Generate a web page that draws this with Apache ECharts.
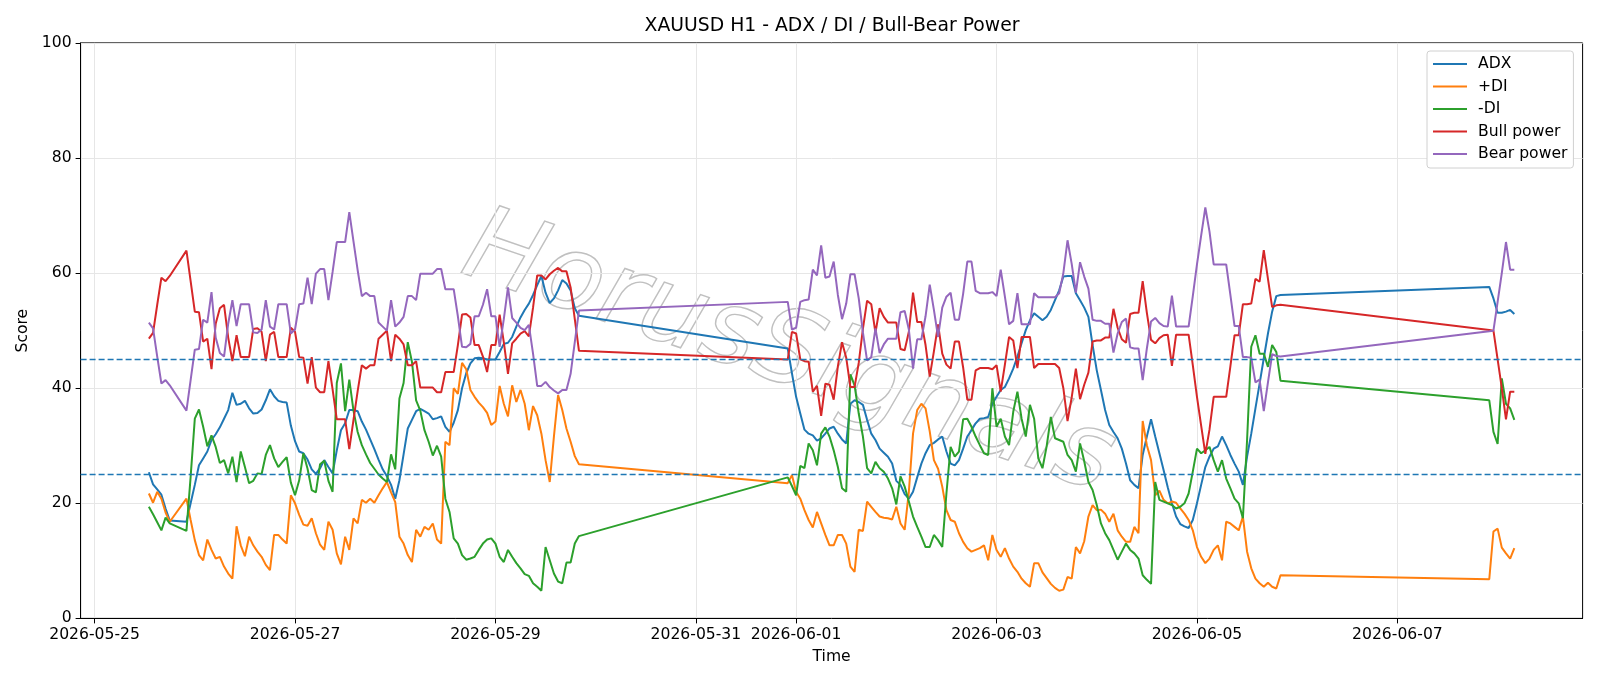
<!DOCTYPE html>
<html>
<head>
<meta charset="utf-8">
<title>XAUUSD H1 - ADX / DI / Bull-Bear Power</title>
<script src="https://cdn.jsdelivr.net/npm/echarts@6/dist/echarts.min.js"></script>
<style>
html, body { margin: 0; padding: 0; background: #fff; }
#chart { width: 1600px; height: 686px; }
</style>
</head>
<body>
<div id="chart"></div>
<script>
// H1 bars, hour offsets from 2026-05-25 00:00 UTC (trading sessions, weekends skipped)
const sessions = [[13, 18], [22, 116], [166, 284], [334, 340]];

const adx = [
    25.4, 23.3, 22.4, 21.5, 19.1, 17.0,
    16.8, 20.0, 23.2, 26.6, 27.8, 29.0, 31.0, 32.0, 33.2, 34.7,
    36.2, 39.2, 37.1, 37.3, 37.8, 36.5, 35.6, 35.7, 36.3, 37.9,
    39.8, 38.6, 37.8, 37.6, 37.5, 33.5, 30.8, 29.0, 28.7, 27.6,
    25.9, 25.1, 26.1, 27.5, 26.3, 25.2, 29.2, 32.7, 33.9, 36.2,
    36.2, 36.0, 34.2, 32.8, 31.1, 29.4, 27.6, 25.9, 24.7, 23.2,
    20.8, 24.0, 28.5, 33.0, 34.5, 36.0, 36.4, 36.0, 35.6, 34.6,
    34.8, 35.1, 33.3, 32.4, 34.0, 36.2, 40.0, 42.6, 44.3, 45.2,
    45.3, 45.2, 45.0, 45.0, 45.0, 46.3, 47.7, 47.9, 48.9, 50.7,
    52.3, 53.6, 54.7, 56.2, 57.9, 59.5, 56.6, 54.8, 55.6, 57.0,
    58.8, 58.2, 57.0, 53.9, 52.6,
    46.9, 42.6, 38.5, 35.6, 32.8, 32.1, 31.8, 30.9, 31.3, 32.1,
    33.0, 33.3, 32.1, 31.1, 30.4, 37.3, 37.9, 37.6, 37.1, 34.5,
    32.1, 31.0, 29.5, 28.8, 28.1, 26.9, 23.9, 23.2, 21.6, 20.8,
    22.0, 24.5, 26.9, 28.7, 30.1, 30.5, 31.1, 31.6, 29.0, 26.9,
    26.6, 27.5, 29.5, 31.6, 32.7, 33.9, 34.7, 34.8, 35.0, 37.3,
    38.5, 39.7, 40.2, 41.7, 43.4, 45.5, 47.8, 50.1, 51.8, 53.0,
    52.4, 51.8, 52.4, 53.6, 55.3, 57.0, 59.4, 59.5, 59.5, 56.5,
    55.3, 54.0, 52.4, 47.5, 43.1, 39.7, 36.2, 33.6, 32.4, 31.3,
    29.5, 26.9, 24.0, 23.2, 22.6, 28.4, 31.6, 34.6, 31.6, 28.7,
    25.8, 22.8, 20.0, 17.7, 16.4, 16.0, 15.7, 17.1, 20.0, 23.2,
    26.3, 28.1, 29.5, 29.9, 31.6, 30.1, 28.4, 26.9, 25.5, 23.2,
    28.1, 32.1, 36.5, 40.8, 45.2, 49.5, 53.3, 56.0, 56.2,
    57.6, 55.6, 53.1, 53.1, 53.3, 53.6, 52.9
];

const plusDI = [
    21.7, 20.1, 22.0, 20.8, 18.4, 16.8,
    20.8, 17.1, 13.6, 11.0, 10.1, 13.7, 11.9, 10.4, 10.7, 9.0,
    7.8, 6.9, 16.0, 12.7, 10.8, 14.2, 12.7, 11.6, 10.7, 9.3,
    8.4, 14.5, 14.5, 13.7, 13.0, 21.4, 20.0, 18.0, 16.3, 16.1,
    17.4, 14.8, 12.8, 11.9, 16.8, 15.4, 11.3, 9.4, 14.2, 11.9,
    17.4, 16.5, 20.6, 20.1, 20.8, 20.1, 21.4, 22.6, 23.7, 21.9,
    20.2, 14.2, 13.0, 11.0, 9.8, 15.4, 14.2, 15.9, 15.4, 16.5,
    13.7, 13.0, 30.7, 30.1, 40.0, 39.0, 44.4, 43.3, 39.7, 38.5,
    37.5, 36.7, 35.7, 33.6, 34.2, 40.4, 37.3, 35.1, 40.5, 37.6,
    39.7, 37.3, 32.7, 36.9, 35.3, 32.1, 27.5, 23.7, 31.6, 38.8,
    36.2, 33.0, 30.7, 28.2, 26.8,
    23.5, 24.9, 22.0, 20.8, 18.8, 17.1, 15.8, 18.5, 16.5, 14.5,
    12.7, 12.7, 14.5, 14.5, 13.0, 9.0, 8.1, 15.4, 15.2, 20.3,
    19.4, 18.5, 17.7, 17.5, 17.4, 17.2, 19.4, 16.5, 15.4, 22.0,
    32.1, 36.2, 37.3, 36.5, 32.5, 27.5, 26.0, 22.9, 18.8, 17.1,
    16.8, 14.8, 13.3, 12.2, 11.6, 11.9, 12.2, 12.7, 10.1, 14.5,
    11.9, 10.7, 12.2, 10.4, 9.0, 8.1, 6.9, 6.1, 5.5, 9.6,
    9.6, 8.0, 7.0, 6.0, 5.3, 4.8, 5.0, 7.2, 6.9, 12.4,
    11.3, 13.4, 17.7, 19.7, 18.8, 18.9, 18.2, 16.8, 18.2, 15.3,
    14.2, 13.3, 13.3, 15.9, 14.8, 34.3, 30.1, 27.5, 21.4, 22.2,
    20.6, 20.0, 20.3, 20.1, 19.1, 18.2, 17.1, 15.3, 12.4, 10.7,
    9.6, 10.4, 11.9, 12.7, 10.1, 16.8, 16.5, 15.9, 15.3, 17.7,
    11.6, 8.7, 6.9, 6.1, 5.5, 6.2, 5.5, 5.2, 7.5,
    6.8, 15.1, 15.6, 12.3, 11.3, 10.4, 12.2
];

const minusDI = [
    19.4, 18.1, 16.7, 15.3, 17.5, 16.5,
    15.2, 24.6, 34.7, 36.3, 33.3, 29.9, 31.8, 29.8, 27.0, 27.5,
    25.2, 28.1, 23.7, 29.0, 26.3, 23.5, 23.9, 25.2, 25.1, 28.4,
    30.1, 27.8, 26.3, 27.2, 28.0, 23.6, 21.4, 24.0, 28.7, 26.0,
    22.3, 21.9, 26.8, 27.4, 23.9, 22.0, 40.9, 44.3, 36.0, 41.5,
    36.1, 32.4, 30.1, 28.5, 27.0, 26.0, 25.0, 24.3, 23.7, 28.5,
    25.9, 38.2, 40.9, 48.0, 44.6, 37.9, 36.1, 32.7, 30.7, 28.3,
    30.0, 28.1, 20.8, 18.5, 13.9, 13.0, 11.0, 10.2, 10.4, 10.7,
    11.9, 13.0, 13.7, 13.9, 13.0, 10.7, 9.8, 11.9, 10.7, 9.6,
    8.7, 7.7, 7.4, 6.1, 5.5, 4.8, 12.4, 10.1, 7.8, 6.4,
    6.1, 9.7, 9.7, 13.0, 14.3,
    24.5, 23.0, 21.4, 26.5, 26.1, 30.4, 29.2, 26.6, 32.1, 33.2,
    31.6, 29.2, 26.3, 22.6, 22.0, 42.4, 40.5, 35.6, 31.6, 26.1,
    25.2, 27.2, 26.1, 25.5, 24.3, 22.6, 19.8, 24.7, 22.9, 20.3,
    17.7, 15.9, 14.2, 12.4, 12.4, 14.5, 13.6, 12.4, 21.7, 29.8,
    28.1, 29.0, 34.6, 34.7, 33.3, 31.6, 30.1, 28.7, 28.4, 40.0,
    33.3, 34.7, 31.6, 30.1, 35.9, 39.4, 34.7, 31.6, 37.1, 34.7,
    27.8, 26.1, 29.9, 35.0, 31.3, 31.0, 30.7, 28.4, 27.5, 25.5,
    30.4, 27.3, 23.7, 22.3, 19.7, 16.5, 14.8, 13.6, 11.9, 10.2,
    11.6, 13.0, 11.9, 11.3, 10.4, 7.5, 6.7, 6.0, 23.7, 20.6,
    20.3, 20.0, 19.7, 19.1, 19.4, 20.0, 21.7, 25.5, 29.5, 28.7,
    29.2, 29.8, 27.5, 25.5, 27.5, 24.3, 22.6, 20.8, 20.0, 17.4,
    31.0, 47.2, 49.2, 46.0, 46.0, 43.7, 47.5, 46.3, 41.3,
    37.9, 32.4, 30.3, 41.7, 37.3, 36.5, 34.5
];

const bullPower = [
    48.6, 49.6, 54.5, 59.2, 58.6, 59.5,
    63.9, 58.6, 53.3, 53.2, 48.1, 48.6, 43.3, 51.2, 53.9, 54.5,
    48.8, 44.7, 49.2, 45.4, 45.4, 45.4, 50.3, 50.4, 49.8, 44.7,
    49.3, 49.8, 45.4, 45.4, 45.4, 50.5, 49.8, 45.4, 45.3, 40.8,
    45.4, 40.1, 39.3, 39.3, 44.7, 39.8, 34.6, 34.6, 34.6, 29.4,
    34.5, 39.5, 44.0, 43.4, 44.0, 44.0, 48.6, 49.3, 50.0, 44.7,
    49.3, 48.6, 47.6, 44.0, 44.0, 44.7, 40.1, 40.1, 40.1, 40.1,
    39.3, 39.3, 42.8, 42.8, 42.8, 47.5, 52.8, 52.9, 52.3, 47.5,
    47.5, 45.5, 42.8, 47.5, 47.5, 52.8, 48.0, 42.5, 47.8, 48.6,
    49.5, 49.9, 49.0, 54.0, 59.6, 59.6, 58.9, 59.8, 60.4, 60.9,
    60.3, 60.3, 57.5, 52.0, 46.5,
    45.0, 49.8, 49.5, 45.0, 44.7, 44.6, 39.4, 40.4, 35.2, 40.8,
    40.6, 38.0, 43.8, 48.0, 45.3, 40.2, 40.2, 44.4, 50.3, 55.2,
    54.6, 49.6, 53.9, 52.4, 51.4, 51.4, 51.4, 46.8, 46.6, 49.8,
    56.6, 51.5, 51.5, 47.5, 42.0, 46.4, 51.1, 46.0, 44.1, 43.4,
    48.1, 48.1, 43.6, 38.0, 38.0, 43.1, 43.5, 43.5, 43.5, 43.3,
    44.0, 39.4, 44.1, 48.9, 48.3, 43.5, 48.9, 48.9, 48.9, 43.5,
    44.2, 44.2, 44.2, 44.2, 44.2, 43.5, 40.0, 34.3, 38.4, 43.4,
    38.1, 40.6, 42.7, 48.1, 48.3, 48.3, 48.8, 48.8, 53.8, 50.5,
    48.5, 47.9, 52.9, 53.1, 53.1, 58.6, 53.1, 48.4, 47.8, 48.7,
    49.2, 49.3, 43.9, 49.3, 49.3, 49.3, 49.3, 44.0, 38.5, 33.5,
    28.6, 32.8, 38.5, 38.5, 38.5, 38.5, 43.8, 49.2, 49.2, 54.6,
    54.6, 54.7, 59.0, 58.5, 64.0, 59.0, 54.1, 54.4, 54.5,
    50.1, 50.0, 45.0, 40.0, 34.6, 39.4, 39.4
];

const bearPower = [
    51.4, 50.4, 45.5, 40.8, 41.4, 40.5,
    36.1, 41.4, 46.7, 46.8, 51.9, 51.4, 56.7, 48.8, 46.1, 45.5,
    51.2, 55.3, 50.8, 54.6, 54.6, 54.6, 49.7, 49.6, 50.2, 55.3,
    50.7, 50.2, 54.6, 54.6, 54.6, 49.5, 50.2, 54.6, 54.7, 59.2,
    54.6, 59.9, 60.7, 60.7, 55.3, 60.2, 65.4, 65.4, 65.4, 70.6,
    65.5, 60.5, 56.0, 56.6, 56.0, 56.0, 51.4, 50.7, 50.0, 55.3,
    50.7, 51.4, 52.4, 56.0, 56.0, 55.3, 59.9, 59.9, 59.9, 59.9,
    60.7, 60.7, 57.2, 57.2, 57.2, 52.5, 47.2, 47.1, 47.7, 52.5,
    52.5, 54.5, 57.2, 52.5, 52.5, 47.2, 52.0, 57.5, 52.2, 51.4,
    50.5, 50.1, 51.0, 46.0, 40.4, 40.4, 41.1, 40.2, 39.6, 39.1,
    39.7, 39.7, 42.5, 48.0, 53.5,
    55.0, 50.2, 50.5, 55.0, 55.3, 55.4, 60.6, 59.6, 64.8, 59.2,
    59.4, 62.0, 56.2, 52.0, 54.7, 59.8, 59.8, 55.6, 49.7, 44.8,
    45.4, 50.4, 46.1, 47.6, 48.6, 48.6, 48.6, 53.2, 53.4, 50.2,
    43.4, 48.5, 48.5, 52.5, 58.0, 53.6, 48.9, 54.0, 55.9, 56.6,
    51.9, 51.9, 56.4, 62.0, 62.0, 56.9, 56.5, 56.5, 56.5, 56.7,
    56.0, 60.6, 55.9, 51.1, 51.7, 56.5, 51.1, 51.1, 51.1, 56.5,
    55.8, 55.8, 55.8, 55.8, 55.8, 56.5, 60.0, 65.7, 61.6, 56.6,
    61.9, 59.4, 57.3, 51.9, 51.7, 51.7, 51.2, 51.2, 46.2, 49.5,
    51.5, 52.1, 47.1, 46.9, 46.9, 41.4, 46.9, 51.6, 52.2, 51.3,
    50.8, 50.7, 56.1, 50.7, 50.7, 50.7, 50.7, 56.0, 61.5, 66.5,
    71.4, 67.2, 61.5, 61.5, 61.5, 61.5, 56.2, 50.8, 50.8, 45.4,
    45.4, 45.3, 41.0, 41.5, 36.0, 41.0, 45.9, 45.6, 45.5,
    49.9, 50.0, 55.0, 60.0, 65.4, 60.6, 60.6
];

const tickDates = ['2026-05-25', '2026-05-27', '2026-05-29', '2026-05-31',
                   '2026-06-01', '2026-06-03', '2026-06-05', '2026-06-07'];
const levels = [45, 25];

const HOUR = 3600 * 1000;
const base = Date.UTC(2026, 4, 25);
const times = [];
sessions.forEach(([a, b]) => {
    for (let h = a; h <= b; h++) times.push(base + h * HOUR);
});
const pair = vals => vals.map((v, i) => [times[i], v]);
const tickValues = tickDates.map(d => Date.parse(d + 'T00:00:00Z'));
const fmtDate = v => {
    const d = new Date(v);
    const p = n => String(n).padStart(2, '0');
    return d.getUTCFullYear() + '-' + p(d.getUTCMonth() + 1) + '-' + p(d.getUTCDate());
};

const font = 'DejaVu Sans';
const fs = 15.6;   // 10pt at the figure's dpi
const chart = echarts.init(document.getElementById('chart'), null, { renderer: 'canvas' });

function line(name, data, color, extra) {
    return Object.assign({
        name: name,
        type: 'line',
        data: pair(data),
        symbol: 'none',
        showSymbol: false,
        lineStyle: { color: color, width: 2 },
        itemStyle: { color: color },
        emphasis: { disabled: true },
        silent: true
    }, extra || {});
}

const option = {
    animation: false,
    textStyle: { fontFamily: font },
    title: {
        text: 'XAUUSD H1 - ADX / DI / Bull-Bear Power',
        left: 832,
        top: 17,
        textAlign: 'center',
        padding: 0,
        textStyle: { fontSize: 18.8, fontWeight: 'normal', color: '#000', fontFamily: font }
    },
    legend: {
        orient: 'vertical',
        left: 1427,
        top: 51,
        padding: [5, 6, 6, 5],
        itemWidth: 34,
        itemHeight: 14,
        itemGap: 6.5,
        backgroundColor: '#fff',
        borderColor: '#d0d0d0',
        borderWidth: 1,
        borderRadius: 3,
        itemStyle: { opacity: 0 },
        textStyle: { fontSize: fs, color: '#000', fontFamily: font, padding: [0, 0, 0, 6] },
        data: ['ADX', '+DI', '-DI', 'Bull power', 'Bear power']
    },
    grid: {
        left: 80.6, top: 42.9, width: 1502, height: 575.5,
        show: true, borderColor: '#000', borderWidth: 1,
        outerBoundsMode: 'none'
    },
    // time carried as a numeric (ms) axis so the matplotlib date ticks can be placed exactly
    xAxis: {
        type: 'value',
        min: base - 3.35 * HOUR,
        max: base + 356.35 * HOUR,
        name: 'Time',
        nameLocation: 'middle',
        nameGap: 31,
        nameTextStyle: { fontSize: fs, color: '#000', fontFamily: font },
        axisLine: { show: true, onZero: false, lineStyle: { color: '#000', width: 1 } },
        axisTick: { show: true, length: 5, lineStyle: { color: '#000' }, customValues: tickValues },
        axisLabel: {
            customValues: tickValues,
            formatter: fmtDate,
            fontSize: fs, color: '#000', margin: 9, fontFamily: font
        },
        splitLine: { show: true, lineStyle: { color: '#e6e6e6', width: 1 } }
    },
    yAxis: {
        type: 'value',
        min: 0, max: 100, interval: 20,
        name: 'Score',
        nameLocation: 'middle',
        nameGap: 48,
        nameTextStyle: { fontSize: fs, color: '#000', fontFamily: font },
        axisLine: { show: true, lineStyle: { color: '#000', width: 1 } },
        axisTick: { show: true, length: 5, lineStyle: { color: '#000' } },
        axisLabel: { fontSize: fs, color: '#000', margin: 9, fontFamily: font },
        splitLine: { show: true, lineStyle: { color: '#e6e6e6', width: 1 } }
    },
    graphic: [{
        type: 'text',
        x: 788, y: 356,
        rotation: -0.33,
        z: 0,
        silent: true,
        style: {
            text: 'HorusSignals',
            font: 'italic 104px "DejaVu Sans"',
            fill: 'rgba(255,255,255,0)',
            stroke: '#c0c0c0',
            lineWidth: 1.4,
            align: 'center',
            verticalAlign: 'middle'
        }
    }],
    series: [
        line('ADX', adx, '#1f77b4'),
        line('+DI', plusDI, '#ff7f0e'),
        line('-DI', minusDI, '#2ca02c'),
        line('Bull power', bullPower, '#d62728'),
        line('Bear power', bearPower, '#9467bd', {
            markLine: {
                silent: true,
                symbol: ['none', 'none'],
                label: { show: false },
                lineStyle: { color: '#1f77b4', type: [6, 3], width: 1.4 },
                data: levels.map(v => ({ yAxis: v }))
            }
        })
    ]
};

chart.setOption(option);
if (times.length !== adx.length) console.error('length mismatch', times.length, adx.length);
</script>
</body>
</html>
